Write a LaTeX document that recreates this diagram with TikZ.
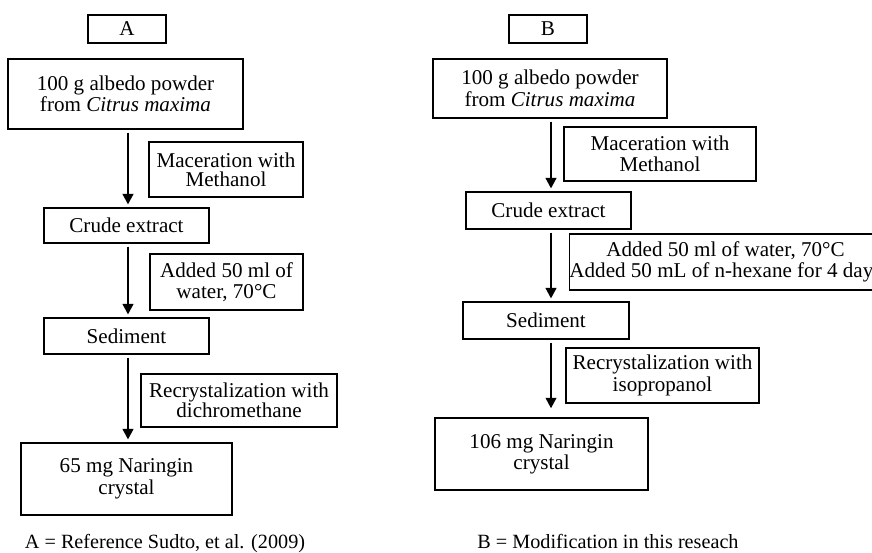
\documentclass[tikz,border=0pt]{standalone}
\usepackage{fontspec}
\setmainfont{Liberation Serif}
\usetikzlibrary{arrows.meta}
\begin{document}
\begin{tikzpicture}[x=0.02cm, y=-0.02cm,
    box/.style={draw, line width=0.8pt, inner sep=0pt, outer sep=0pt, align=center, font=\fontsize{12}{12.2}\selectfont},
    flow/.style={-{Triangle[length=6pt, width=6pt]}, line width=1.3pt, shorten <=2pt, shorten >=2pt}]
    \useasboundingbox (0,0) rectangle (872,553);
    % method A
    \node (labA) at (127,29) [box, minimum width=1.56cm, minimum height=0.56cm] {A};
    \node (a1) at (125.5,94) [box, minimum width=4.7cm, minimum height=1.4cm] {100 g albedo powder\\from \textit{Citrus maxima}};
    \node (ma) at (226,169.5) [box, minimum width=3.08cm, minimum height=1.1cm, font=\fontsize{12}{11}\selectfont] {Maceration with\\Methanol};
    \node (a2) at (126.5,225.5) [box, minimum width=3.3cm, minimum height=0.7cm] {Crude extract};
    \node (wa) at (226.5,282) [box, minimum width=3.06cm, minimum height=1.12cm] {Added 50 ml of\\water, 70°C};
    \node (a3) at (126.5,336) [box, minimum width=3.3cm, minimum height=0.72cm] {Sediment};
    \node (ra) at (239,400.5) [box, minimum width=3.92cm, minimum height=1.06cm, font=\fontsize{12}{11.2}\selectfont] {Recrystalization with\\dichromethane};
    \node (a4) at (126.5,479) [box, minimum width=4.22cm, minimum height=1.44cm] {65 mg Naringin\\crystal};
    \node (capA) at (165,548) [anchor=base, font=\fontsize{11.5}{12}\selectfont] {A = Reference Sudto, et al. (2009)};
    \coordinate (ax) at (128,0);
    \draw[flow] (a1.south -| ax) -- (a2.north -| ax);
    \draw[flow] (a2.south -| ax) -- (a3.north -| ax);
    \draw[flow] (a3.south -| ax) -- (a4.north -| ax);
    % method B
    \node (labB) at (548,29) [box, minimum width=1.56cm, minimum height=0.56cm] {B};
    \node (b1) at (550,88.5) [box, minimum width=4.68cm, minimum height=1.18cm] {100 g albedo powder\\from \textit{Citrus maxima}};
    \node (mb) at (660,154) [box, minimum width=3.84cm, minimum height=1.08cm] {Maceration with\\Methanol};
    \node (b2) at (548.5,210.5) [box, minimum width=3.3cm, minimum height=0.74cm] {Crude extract};
    \node (wb) at (725.5,262) [box, minimum width=6.1cm, minimum height=1.12cm] {Added 50 ml of water, 70°C\\Added 50 mL of n-hexane for 4 days};
    \node (b3) at (546,320.5) [box, minimum width=3.32cm, minimum height=0.74cm] {Sediment};
    \node (rb) at (662.5,375.5) [box, minimum width=3.86cm, minimum height=1.1cm] {Recrystalization with\\isopropanol};
    \node (b4) at (541.5,454) [box, minimum width=4.26cm, minimum height=1.44cm] {106 mg Naringin\\crystal};
    \node (capB) at (608,548) [anchor=base, font=\fontsize{11.5}{12}\selectfont] {B = Modification in this reseach};
    \coordinate (bx) at (551,0);
    \draw[flow] (b1.south -| bx) -- (b2.north -| bx);
    \draw[flow] (b2.south -| bx) -- (b3.north -| bx);
    \draw[flow, shorten >=5.5pt] (b3.south -| bx) -- (b4.north -| bx);
\end{tikzpicture}
\end{document}
